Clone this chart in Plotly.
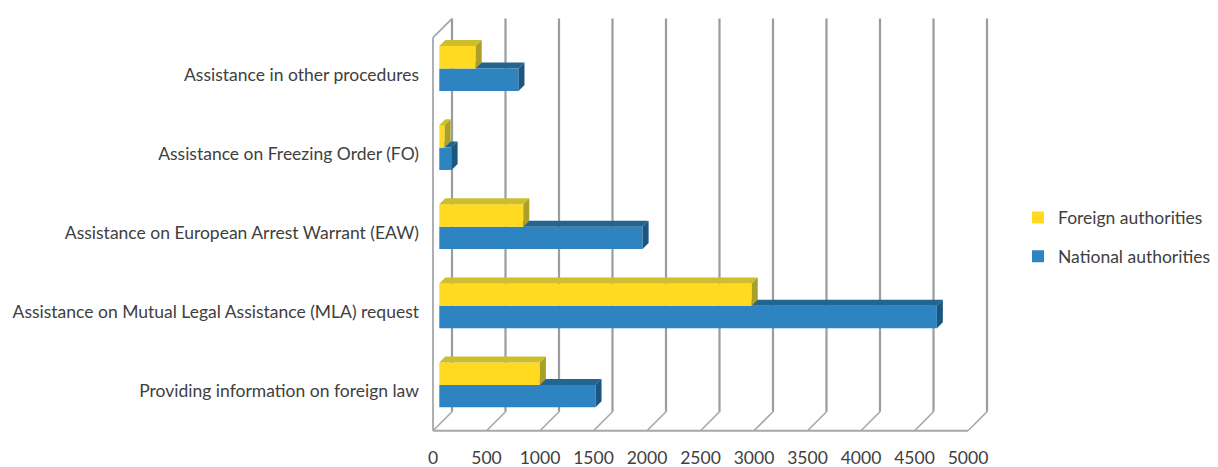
import plotly.graph_objects as go

# ---------------- data ----------------
categories = [
    "Providing information on foreign law",
    "Assistance on Mutual Legal Assistance (MLA) request",
    "Assistance on European Arrest Warrant (EAW)",
    "Assistance on Freezing Order (FO)",
    "Assistance in other procedures",
]
national = [1460, 4650, 1900, 115, 740]
foreign = [940, 2920, 785, 50, 340]
x_ticks = [0, 500, 1000, 1500, 2000, 2500, 3000, 3500, 4000, 4500, 5000]

# ---------------- geometry / style ----------------
W, H = 1218, 467
PL, PR, PT, PB = 420, 1000, 10, 440          # plot area in pixels
KX = 0.107                                   # px per value unit
KY = 79.1                                    # px per category
X0_PX = 439.3                                # value 0 in the bar plane
Y0_PX = 384.9                                # centre of first category

xr = [(PL - X0_PX) / KX, (PR - X0_PX) / KX]
yr = [(Y0_PX - PB) / KY, (Y0_PX - PT) / KY]

FDX, FDY = -6.3 / KX, -6.3 / KY              # front plane offset
BDX, BDY = 12.7 / KX, 12.7 / KY              # back plane offset
DDX, DDY = 6.0 / KX, 6.0 / KY                # bar depth
BH = 22.4 / KY                               # bar thickness
Y_FLOOR, Y_TOP = -0.5, 4.47

BLUE, BLUE_TOP, BLUE_SIDE = "#2E83C1", "#22668f", "#1b5680"
YEL, YEL_TOP, YEL_SIDE = "#FFDA20", "#cdbe2e", "#aaa027"
GRID = "#979da0"
EDGE = "#a4a8aa"
TXT = "#404040"
FONT = "Lato"
FS = 17.5

ypos = list(range(len(categories)))

fig = go.Figure()

fig.add_trace(go.Bar(
    y=ypos, x=national, orientation="h", width=BH, offset=-BH,
    marker=dict(color=BLUE, line=dict(width=0)), name="National authorities",
    legendgroup="nat", legendrank=2,
))
fig.add_trace(go.Bar(
    y=ypos, x=foreign, orientation="h", width=BH, offset=0,
    marker=dict(color=YEL, line=dict(width=0)), name="Foreign authorities",
    legendgroup="for", legendrank=1,
))


def poly_trace(polys, color):
    xs, ys = [], []
    for p in polys:
        for (a, b) in p + [p[0]]:
            xs.append(a)
            ys.append(b)
        xs.append(None)
        ys.append(None)
    return go.Scatter(x=xs, y=ys, mode="lines", fill="toself", fillcolor=color,
                      line=dict(width=0, color=color), showlegend=False,
                      hoverinfo="skip")


blue_top, blue_side, yel_top, yel_side = [], [], [], []
for i, (n, f) in enumerate(zip(national, foreign)):
    blue_top.append([(f, i), (n, i), (n + DDX, i + DDY), (f, i + DDY)])
    blue_side.append([(n, i - BH), (n, i), (n + DDX, i + DDY), (n + DDX, i - BH + DDY)])
    yel_top.append([(0, i + BH), (f, i + BH), (f + DDX, i + BH + DDY), (DDX, i + BH + DDY)])
    yel_side.append([(f, i), (f, i + BH), (f + DDX, i + BH + DDY), (f + DDX, i + DDY)])

fig.add_trace(poly_trace(blue_top, BLUE_TOP))
fig.add_trace(poly_trace(blue_side, BLUE_SIDE))
fig.add_trace(poly_trace(yel_top, YEL_TOP))
fig.add_trace(poly_trace(yel_side, YEL_SIDE))

# ---------------- walls, floor, gridlines ----------------
shapes = []
for v in x_ticks:
    shapes.append(dict(type="line", xref="x", yref="y", layer="below",
                       x0=v + BDX, x1=v + BDX, y0=Y_FLOOR + BDY, y1=Y_TOP + BDY,
                       line=dict(color=GRID, width=2.2)))
    shapes.append(dict(type="line", xref="x", yref="y", layer="below",
                       x0=v + FDX, x1=v + BDX, y0=Y_FLOOR + FDY, y1=Y_FLOOR + BDY,
                       line=dict(color=EDGE, width=1.6)))
shapes.append(dict(type="line", xref="x", yref="y", layer="below",
                   x0=x_ticks[0] + FDX, x1=x_ticks[-1] + FDX,
                   y0=Y_FLOOR + FDY, y1=Y_FLOOR + FDY,
                   line=dict(color=EDGE, width=1.8)))
shapes.append(dict(type="line", xref="x", yref="y", layer="below",
                   x0=x_ticks[0] + FDX, x1=x_ticks[0] + FDX,
                   y0=Y_FLOOR + FDY, y1=Y_TOP + FDY,
                   line=dict(color=EDGE, width=1.8)))
shapes.append(dict(type="line", xref="x", yref="y", layer="below",
                   x0=x_ticks[0] + FDX, x1=x_ticks[0] + BDX,
                   y0=Y_TOP + FDY, y1=Y_TOP + BDY,
                   line=dict(color=EDGE, width=1.8)))

fig.update_layout(
    width=W, height=H,
    margin=dict(l=PL, r=W - PR, t=PT, b=H - PB, pad=0, autoexpand=False),
    paper_bgcolor="white", plot_bgcolor="white",
    barmode="overlay",
    shapes=shapes,
    font=dict(family=FONT, size=FS, color=TXT),
    xaxis=dict(range=xr, showgrid=False, zeroline=False, showline=False,
               automargin=False,
               tickmode="array", tickvals=[v + FDX for v in x_ticks],
               ticktext=[str(v) for v in x_ticks], ticks="", ticklen=0,
               ticklabelstandoff=5,
               tickfont=dict(size=FS, color=TXT, family=FONT), fixedrange=True),
    yaxis=dict(range=yr, showgrid=False, zeroline=False, showline=False,
               automargin=False,
               tickmode="array", tickvals=[i + FDY for i in ypos],
               ticktext=categories, ticks="", ticklen=0,
               tickfont=dict(size=FS, color=TXT, family=FONT), fixedrange=True),
    legend=dict(xref="container", yref="container",
                x=1018 / W, y=1 - 237 / H,
                xanchor="left", yanchor="middle",
                traceorder="grouped", tracegroupgap=13,
                font=dict(size=FS, color=TXT, family=FONT),
                bgcolor="rgba(0,0,0,0)"),
    showlegend=True,
)

fig.write_html("out.html")
